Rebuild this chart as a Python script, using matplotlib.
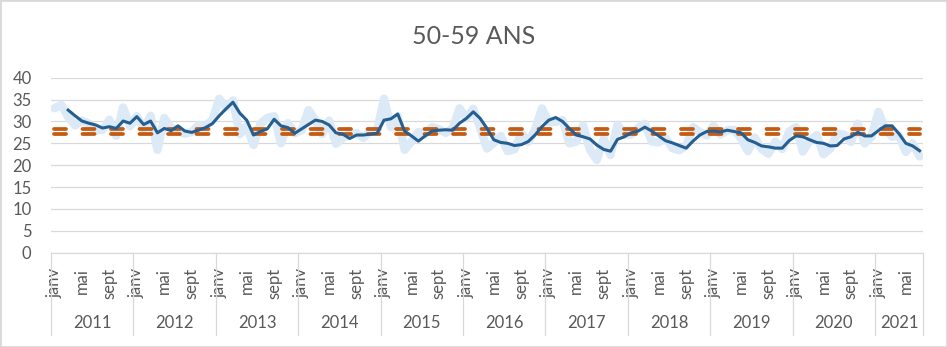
import matplotlib.pyplot as plt
import matplotlib.transforms as mtransforms
from matplotlib.patches import Rectangle
import numpy as np

plt.rcParams['font.family'] = ['Lato', 'DejaVu Sans']

annees = ['2011', '2012', '2013', '2014', '2015', '2016', '2017', '2018', '2019', '2020', '2021']
mois_par_annee = [12, 12, 12, 12, 12, 12, 12, 12, 12, 12, 7]
mois_affiches = {0: 'janv', 4: 'mai', 8: 'sept'}

# valeurs mensuelles (courbe claire)
taux = [
    33.0, 33.8, 31.0, 29.1, 30.2, 29.5, 27.9, 28.1, 30.4, 26.7, 33.2, 28.9,
    31.2, 28.3, 31.3, 23.5, 30.8, 28.5, 27.7, 27.2, 27.6, 29.2, 29.0, 30.3,
    35.2, 33.2, 34.8, 27.1, 29.0, 24.6, 29.5, 30.8, 31.2, 25.0, 29.6, 27.3,
    28.0, 32.6, 30.3, 27.1, 30.2, 24.9, 26.2, 27.2, 27.3, 26.2, 27.8, 27.9,
    35.2, 28.7, 31.2, 23.5, 25.4, 27.6, 27.1, 28.7, 28.2, 27.4, 28.4, 33.0,
    30.7, 32.9, 28.5, 23.8, 25.1, 26.7, 23.2, 23.6, 27.3, 25.3, 28.1, 33.0,
    29.8, 29.9, 30.3, 25.0, 25.4, 29.1, 23.5, 21.2, 26.1, 22.3, 29.3, 27.0,
    27.0, 28.5, 29.5, 25.4, 25.2, 26.2, 23.9, 23.4, 24.4, 28.7, 27.6, 26.8,
    29.0, 27.0, 28.0, 28.1, 26.1, 23.2, 26.3, 23.7, 22.6, 25.4, 23.7, 27.7,
    28.7, 23.1, 25.6, 26.9, 22.5, 23.8, 27.2, 27.0, 25.3, 29.5, 25.0, 26.5,
    32.2, 28.3, 26.5, 26.8, 23.0, 25.0, 22.0,
]

# moyenne mobile 3 mois (courbe foncée)
moyenne_mobile = [
    None, None, 32.6, 31.3, 30.1, 29.6, 29.2, 28.5, 28.8, 28.4, 30.1, 29.6,
    31.1, 29.3, 30.1, 27.4, 28.4, 27.9, 29.0, 27.8, 27.5, 28.0, 28.6, 29.5,
    31.3, 32.9, 34.4, 31.9, 30.3, 26.9, 27.7, 28.3, 30.5, 29.0, 28.6, 27.3,
    28.3, 29.3, 30.3, 30.0, 29.2, 27.4, 27.1, 26.1, 26.9, 26.9, 27.1, 27.3,
    30.3, 30.6, 31.7, 27.8, 26.7, 25.5, 26.7, 27.8, 28.0, 28.1, 28.0, 29.6,
    30.7, 32.2, 30.7, 28.4, 25.8, 25.2, 25.0, 24.5, 24.7, 25.4, 26.9, 28.8,
    30.3, 30.9, 30.0, 28.4, 26.9, 26.5, 26.0, 24.6, 23.6, 23.2, 25.9, 26.5,
    27.4, 27.8, 28.7, 27.8, 26.7, 25.6, 25.1, 24.5, 23.9, 25.5, 26.9, 27.7,
    27.8, 27.6, 28.0, 27.7, 27.4, 25.8, 25.2, 24.4, 24.2, 23.9, 23.9, 25.6,
    26.7, 26.5, 25.8, 25.2, 25.0, 24.4, 24.5, 26.0, 26.5, 27.5, 26.7, 26.7,
    27.9, 29.0, 29.0, 27.2, 25.0, 24.4, 23.3,
]

seuil_haut = 28.3
seuil_bas = 27.1

gris = '#D9D9D9'
texte = '#595959'

n = len(taux)
x = np.arange(n)

fig = plt.figure(figsize=(9.47, 3.47), dpi=100)
ax = fig.add_axes([51 / 947, 1 - 252.7 / 347, 872 / 947, 175 / 347])

ax.plot(x, taux, color='#DCE9F6', lw=6, solid_joinstyle='round', solid_capstyle='round', zorder=2)
for s in (seuil_haut, seuil_bas):
    ax.plot(x[[0, -1]], [s, s], color='#C55A11', lw=2.7, dashes=(3.2, 4.4),
            dash_capstyle='round', zorder=3)
ax.plot(x, np.array(moyenne_mobile, dtype=float), color='#255E91', lw=2.2,
        solid_joinstyle='round', zorder=4)

ax.set_xlim(-0.5, n - 0.5)
ax.set_ylim(0, 40)
ax.set_yticks(range(0, 41, 5))
ax.grid(axis='y', color=gris, lw=0.9)
ax.set_axisbelow(True)
for side in ('left', 'right', 'top'):
    ax.spines[side].set_visible(False)
ax.spines['bottom'].set_color(gris)
ax.spines['bottom'].set_linewidth(0.9)
ax.tick_params(axis='y', length=0, pad=14, labelsize=12, labelcolor=texte)

# libellés des mois et des années
pos, labels = [], []
debut = 0
trans = mtransforms.blended_transform_factory(ax.transData, ax.transAxes)
for annee, nb in zip(annees, mois_par_annee):
    for k, nom in mois_affiches.items():
        if k < nb:
            pos.append(debut + k)
            labels.append(nom)
    ax.text(debut + nb / 2 - 0.5, -0.40, annee, transform=trans, ha='center', va='center',
            fontsize=12, color=texte)
    ax.plot([debut - 0.5, debut - 0.5], [0, -0.47], transform=trans, clip_on=False,
            color=gris, lw=0.9)
    debut += nb
ax.plot([debut - 0.5, debut - 0.5], [0, -0.47], transform=trans, clip_on=False, color=gris, lw=0.9)

ax.set_xticks(pos, labels, rotation=90)
ax.tick_params(axis='x', length=0, pad=11, labelsize=12, labelcolor=texte)

fig.text(0.5, 1 - 36 / 347, '50-59 ANS', ha='center', va='center', fontsize=18,
         color=texte, fontweight='normal')
fig.add_artist(Rectangle((0, 0), 1, 1, transform=fig.transFigure, fill=False, ec=gris, lw=2))

fig.savefig('out.png', dpi=100)
